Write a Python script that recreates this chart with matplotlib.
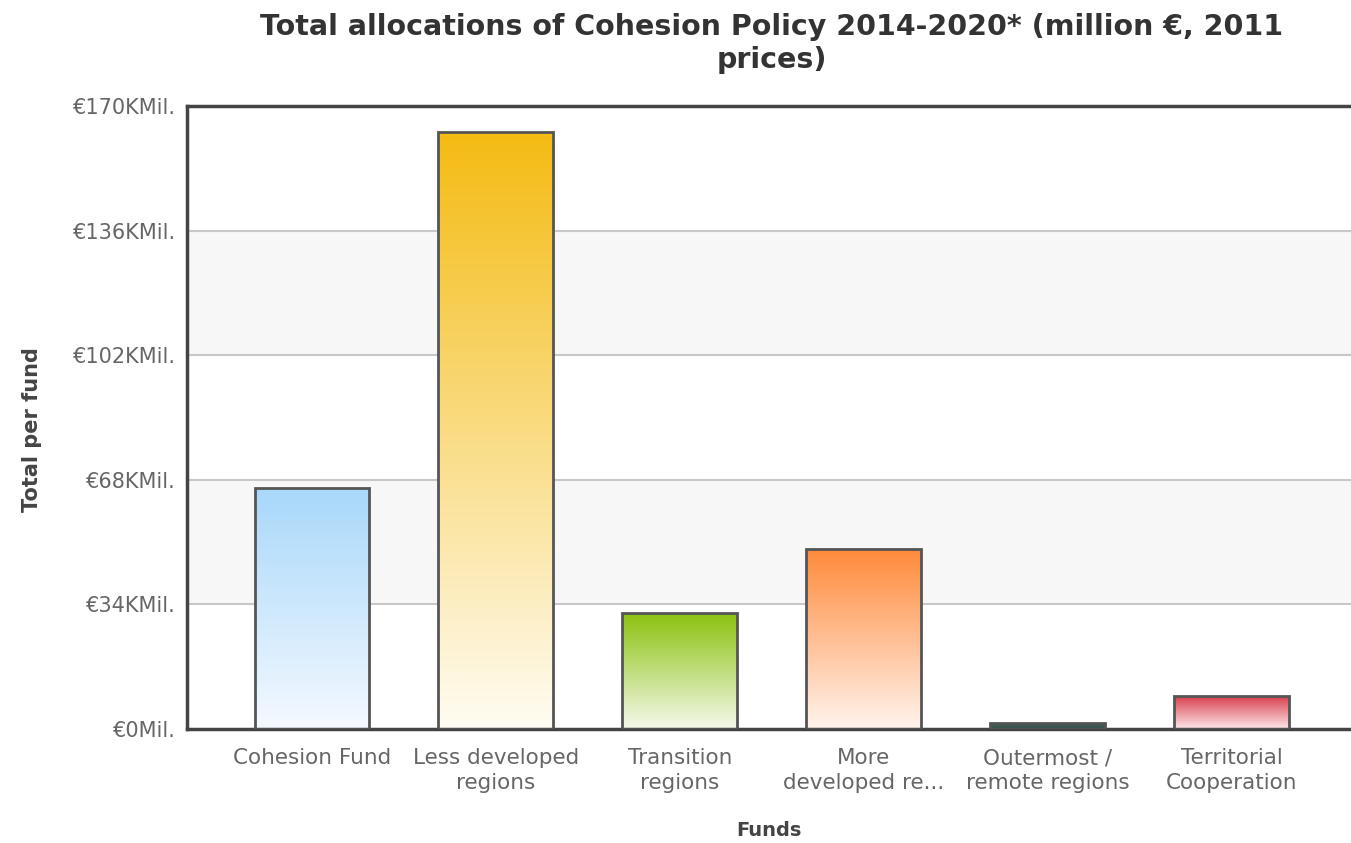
import numpy as np
import matplotlib.pyplot as plt
from matplotlib.colors import LinearSegmentedColormap

funds = ['Cohesion Fund', 'Less developed\nregions', 'Transition\nregions',
         'More\ndeveloped re...', 'Outermost /\nremote regions', 'Territorial\nCooperation']
totals = [65.7, 162.9, 31.6, 49.0, 1.6, 9.0]  # thousand million EUR
top_colors = ['#a8d8fa', '#f4bb12', '#8bc20f', '#ff8a3a', '#3a5a52', '#d8404e']
bottom_colors = ['#f4f9ff', '#fffcf2', '#f5f9ec', '#fff4ee', '#3a5a52', '#fde8ea']
yticks = [0, 34, 68, 102, 136, 170]
ylabels = ['€0Mil.', '€34KMil.', '€68KMil.', '€102KMil.', '€136KMil.', '€170KMil.']

fig = plt.figure(figsize=(13.51, 8.43), dpi=100)
ax = fig.add_axes([0.1384, 0.1352, 0.8616, 0.7391])
ax.set_xlim(-0.68, 5.65)
ax.set_ylim(0, 170)

# alternating bands + grid
for lo, hi in [(34, 68), (102, 136)]:
    ax.axhspan(lo, hi, color='#f7f7f7', zorder=0, lw=0)
for y in yticks[1:-1]:
    ax.axhline(y, color='#c8c8c8', lw=1.5, zorder=1)

bars = ax.bar(range(len(funds)), totals, width=0.625, color='none',
              edgecolor='#555555', linewidth=2, zorder=3)

# fill each bar with a vertical gradient
for b, c1, c2 in zip(bars, top_colors, bottom_colors):
    cmap = LinearSegmentedColormap.from_list('g', [c2, c1])
    x0, y0 = b.get_x(), b.get_y()
    w, h = b.get_width(), b.get_height()
    grad = np.linspace(0, 1, 256).reshape(-1, 1)
    im = ax.imshow(grad, cmap=cmap, aspect='auto', origin='lower',
                   extent=[x0, x0 + w, y0, y0 + h], zorder=2)
    im.set_clip_path(b)

ax.set_xlim(-0.68, 5.65)
ax.set_ylim(0, 170)

for s in ['left', 'bottom', 'top']:
    ax.spines[s].set_color('#444444')
    ax.spines[s].set_linewidth(2.5)
ax.spines['right'].set_visible(False)

ax.set_yticks(yticks)
ax.set_yticklabels(ylabels, fontsize=15, color='#666666')
ax.set_xticks(range(len(funds)))
ax.set_xticklabels(funds, fontsize=15.5, color='#666666', linespacing=1.3)
ax.tick_params(length=0)
ax.tick_params(axis='y', pad=8)
ax.tick_params(axis='x', pad=14)

ax.set_xlabel('Funds', fontsize=14, fontweight='bold', color='#444444', labelpad=20)
fig.text(0.024, 0.49, 'Total per fund', rotation=90, fontsize=15, fontweight='bold',
         color='#444444', ha='center', va='center')
fig.text(0.571, 0.985, 'Total allocations of Cohesion Policy 2014-2020* (million €, 2011\nprices)',
         fontsize=20.5, fontweight='bold', color='#333333', ha='center', va='top',
         linespacing=1.25)

plt.savefig('out.png', dpi=100)
plt.close()
